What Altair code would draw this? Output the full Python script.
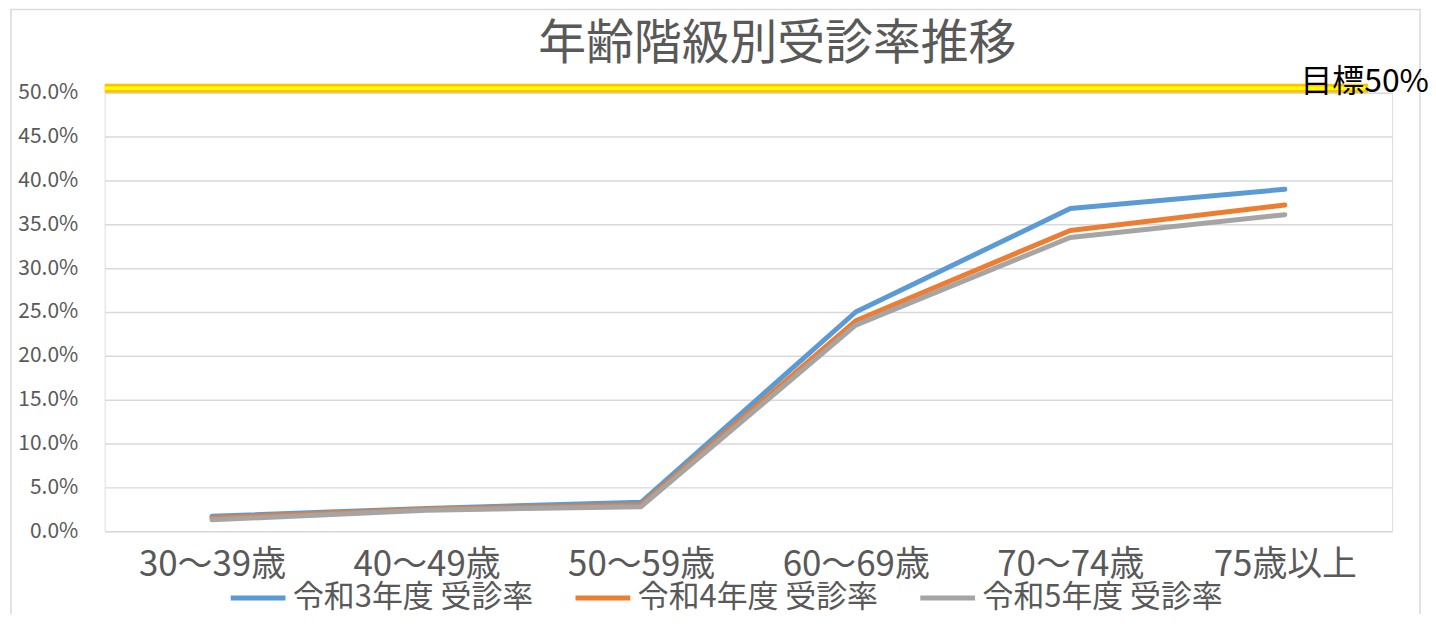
import altair as alt
import pandas as pd

categories = ["30～39歳", "40～49歳", "50～59歳", "60～69歳", "70～74歳", "75歳以上"]
series_names = ["令和3年度 受診率", "令和4年度 受診率", "令和5年度 受診率"]
r3 = [0.017, 0.026, 0.033, 0.250, 0.368, 0.390]
r4 = [0.015, 0.025, 0.030, 0.240, 0.343, 0.372]
r5 = [0.013, 0.024, 0.028, 0.235, 0.335, 0.361]
colors = ["#5B9BD5", "#ED7D31", "#A5A5A5"]
goal_value = 0.5
goal_label = "目標50%"
title_text = "年齢階級別受診率推移"
y_ticks = [0.0, 0.05, 0.10, 0.15, 0.20, 0.25, 0.30, 0.35, 0.40, 0.45, 0.50]

FONT = "Noto Sans CJK JP"
GREY = "#595959"

rows = []
for name, vals in zip(series_names, [r3, r4, r5]):
    for c, v in zip(categories, vals):
        rows.append({"category": c, "series": name, "rate": v})
df = pd.DataFrame(rows)
goal_df = pd.DataFrame({"goal": [goal_value], "label": [goal_label], "title": [title_text]})

W, H = 1292, 440

x_enc = alt.X("category:N", sort=categories, title=None,
              axis=alt.Axis(labelAngle=0, labelFontSize=35, labelColor=GREY, labelFont=FONT,
                            ticks=False, domain=False, labelPadding=16, grid=False))
y_enc = alt.Y("rate:Q", title=None,
              scale=alt.Scale(domain=[0, 0.5], nice=False),
              axis=alt.Axis(values=y_ticks, format=".1%", labelFontSize=21, labelColor=GREY,
                            labelFont=FONT, ticks=False, domain=False, labelPadding=27,
                            gridColor="#d9d9d9", gridWidth=1.5))

border = alt.Chart(goal_df).mark_rect(fill="transparent", stroke="#d9d9d9", strokeWidth=1.5).encode(
    x=alt.value(-94), x2=alt.value(1320), y=alt.value(-83.5), y2=alt.value(560)
)

title = alt.Chart(goal_df).mark_text(align="center", baseline="middle", fontSize=48,
                                     font=FONT, color=GREY).encode(
    x=alt.value(675), y=alt.value(-48), text="title:N"
)

lines = alt.Chart(df).mark_line(strokeWidth=5, strokeCap="round", strokeJoin="round").encode(
    x=x_enc,
    y=y_enc,
    color=alt.Color("series:N", sort=series_names,
                    scale=alt.Scale(domain=series_names, range=colors),
                    legend=alt.Legend(title=None, orient="none", direction="horizontal",
                                      legendX=124, legendY=477, symbolType="stroke",
                                      symbolSize=3025, symbolStrokeWidth=5,
                                      labelFontSize=31, labelColor=GREY, labelFont=FONT,
                                      labelOffset=5, columnPadding=31, padding=0,
                                      labelLimit=400)),
)

goal_outer = alt.Chart(goal_df).mark_rule(color="#FFC000", strokeWidth=9, yOffset=-4.5).encode(
    y=alt.Y("goal:Q"), x=alt.value(0), x2=alt.value(1268)
)
goal_inner = alt.Chart(goal_df).mark_rule(color="#FFFF00", strokeWidth=3.5, yOffset=-4.5).encode(
    y=alt.Y("goal:Q"), x=alt.value(0), x2=alt.value(1268)
)
goal_text = alt.Chart(goal_df).mark_text(align="left", baseline="middle", fontSize=32,
                                         font=FONT, color="#000000", dy=-11).encode(
    y=alt.Y("goal:Q"), x=alt.value(1200), text="label:N"
)

chart = alt.layer(border, title, lines, goal_outer, goal_inner, goal_text).properties(
    width=W, height=H,
    autosize=alt.AutoSizeParams(type="none"),
    padding={"left": 97, "top": 84, "right": 36, "bottom": 82},
).configure_view(stroke=None).configure(background="white")

chart.save("out.html", embed_options={"renderer": "svg", "actions": False})
